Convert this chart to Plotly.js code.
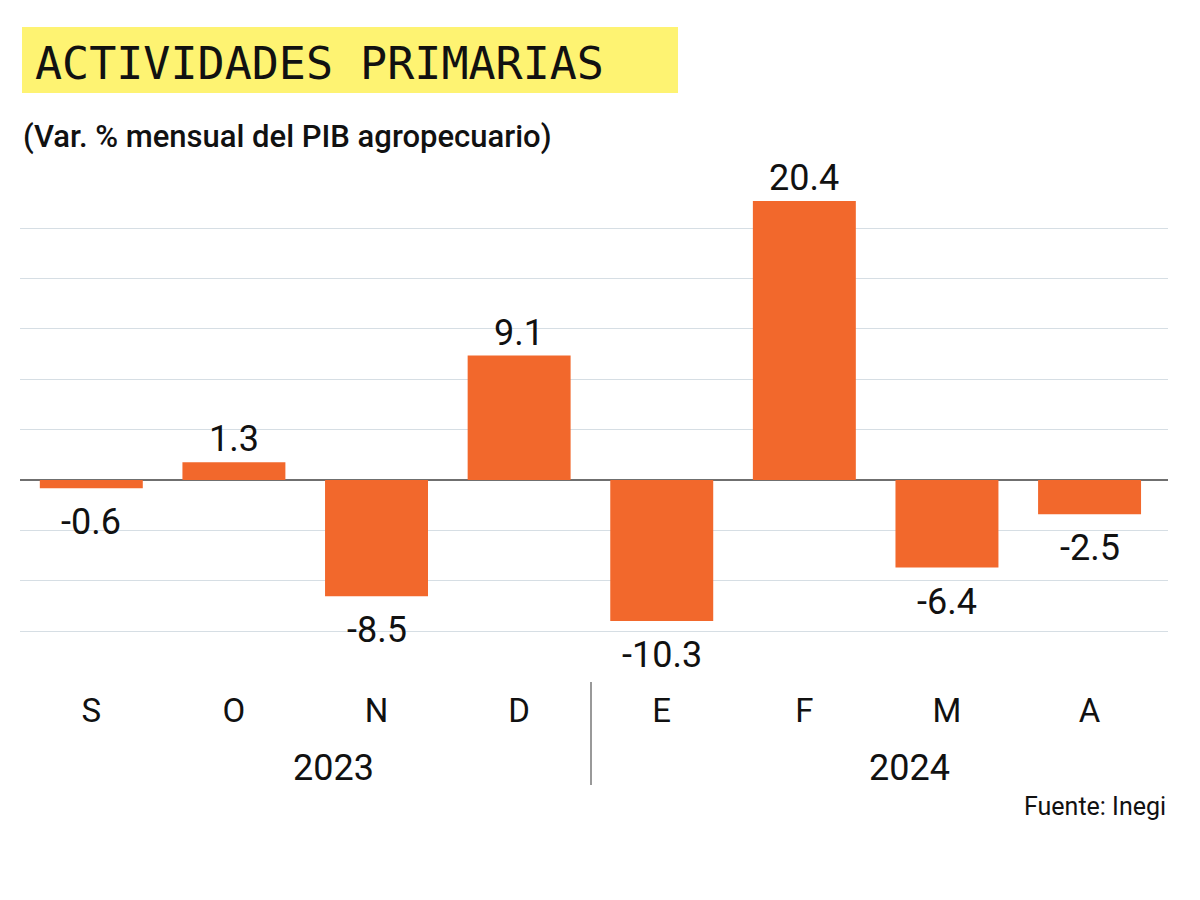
<!DOCTYPE html>
<html>
<head>
<meta charset="utf-8">
<script src="https://cdn.plot.ly/plotly-3.0.1.min.js"></script>
<style>html,body{margin:0;padding:0;background:#fff;}#chart{width:1200px;height:900px;}</style>
</head>
<body>
<div id="chart"></div>
<script>
const months = ["S", "O", "N", "D", "E", "F", "M", "A"];
const values = [-0.6, 1.3, -8.5, 9.1, -10.3, 20.4, -6.4, -2.5];
const valueLabels = ["-0.6", "1.3", "-8.5", "9.1", "-10.3", "20.4", "-6.4", "-2.5"];
const years = ["2023", "2024"];
const titleText = "ACTIVIDADES PRIMARIAS";
const subtitleText = "(Var. % mensual del PIB agropecuario)";
const sourceText = "Fuente: Inegi";

const sans = "Roboto, 'Noto Sans', sans-serif";

const plotTop = 180, plotBottom = 650, plotL = 20, plotR = 1168;
const plotH = plotBottom - plotTop, plotW = plotR - plotL;
function py(pix) { return (plotBottom - pix) / plotH; }
function px(pix) { return (pix - plotL) / plotW; }

const trace = {
  type: "bar",
  x: months,
  y: values,
  marker: {color: "#F2682C"},
  hoverinfo: "none"
};

const annotations = values.map((v, i) => ({
  x: months[i], y: v, xref: "x", yref: "y",
  text: valueLabels[i], showarrow: false,
  yanchor: v >= 0 ? "bottom" : "top",
  yshift: v >= 0 ? 0 : -11,
  font: {family: sans, size: 36, color: "#111"}
}));

annotations.push(
  {x: px(334), y: py(768), xref: "paper", yref: "paper", text: years[0], showarrow: false,
   font: {family: sans, size: 36, color: "#111"}, xanchor: "center", yanchor: "middle"},
  {x: px(909), y: py(768), xref: "paper", yref: "paper", text: years[1], showarrow: false,
   font: {family: sans, size: 36, color: "#111"}, xanchor: "center", yanchor: "middle"},
  {x: px(21), y: py(136), xref: "paper", yref: "paper", text: subtitleText, showarrow: false,
   xanchor: "left", yanchor: "middle", font: {family: sans, size: 31, weight: 500, color: "#111"}},
  {x: px(33), y: py(63), xref: "paper", yref: "paper", text: titleText, showarrow: false,
   xanchor: "left", yanchor: "middle", font: {family: "'DejaVu Sans Mono', 'Liberation Mono', monospace", size: 45, color: "#111"}},
  {x: px(1168), y: py(806), xref: "paper", yref: "paper", text: sourceText, showarrow: false,
   xanchor: "right", yanchor: "middle", font: {family: sans, size: 25, color: "#111"}}
);

const layout = {
  width: 1200, height: 900,
  margin: {l: plotL, r: 1200 - plotR, t: plotTop, b: 900 - plotBottom},
  paper_bgcolor: "#fff", plot_bgcolor: "#fff",
  showlegend: false,
  bargap: 0.278,
  xaxis: {
    type: "category",
    range: [-0.5, 7.55],
    showgrid: false, zeroline: false, showline: false,
    ticks: "", ticklabelstandoff: 38,
    tickfont: {family: sans, size: 33, color: "#111"},
    fixedrange: true
  },
  yaxis: {
    range: [-(plotBottom - 480) / 13.68, (480 - plotTop) / 13.68],
    tick0: 0, dtick: 3.68,
    showticklabels: false, ticks: "",
    showgrid: true, gridcolor: "#d6dee4", gridwidth: 1,
    zeroline: true, zerolinecolor: "#6f6f6f", zerolinewidth: 1.5,
    showline: false, fixedrange: true
  },
  annotations: annotations,
  shapes: [
    {type: "rect", xref: "paper", yref: "paper", x0: px(22), x1: px(678), y0: py(93), y1: py(27),
     fillcolor: "#FEF372", line: {width: 0}, layer: "below"},
    {type: "line", xref: "paper", yref: "paper", x0: px(591), x1: px(591), y0: py(682), y1: py(785),
     line: {color: "#777", width: 1.5}}
  ]
};

Plotly.newPlot("chart", [trace], layout, {displayModeBar: false, staticPlot: true});
</script>
</body>
</html>
